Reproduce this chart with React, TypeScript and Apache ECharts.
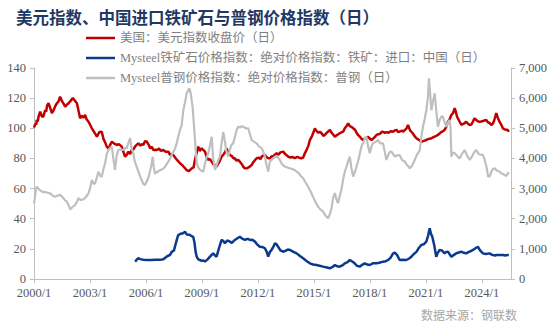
import React, { useEffect, useRef } from "react";
import * as echarts from "echarts";

const titleText = "美元指数、中国进口铁矿石与普钢价格指数（日）";
const sourceText = "数据来源：钢联数";
const seriesNames = [
  "美国：美元指数收盘价（日）",
  "Mysteel铁矿石价格指数：绝对价格指数：铁矿：进口：中国（日）",
  "Mysteel普钢价格指数：绝对价格指数：普钢（日）",
];
const xTickYears = [2000, 2003, 2006, 2009, 2012, 2015, 2018, 2021, 2024];

// [year (decimal), value]
const usdIndex: [number, number][] = [
  [2000.0, 100.5], [2000.04, 102], [2000.08, 103], [2000.12, 102.5], [2000.15, 105.5], [2000.2, 104.5], [2000.25, 108], [2000.33, 111], [2000.42, 108],
  [2000.5, 107.7], [2000.6, 112], [2000.65, 111], [2000.7, 115], [2000.78, 116.6], [2000.88, 113], [2000.96, 110],
  [2001.05, 112], [2001.15, 115], [2001.23, 116.6], [2001.32, 118], [2001.4, 121], [2001.5, 118],
  [2001.6, 116], [2001.67, 114.3], [2001.75, 115.5], [2001.85, 116.6], [2001.95, 118], [2002.08, 120],
  [2002.18, 118.5], [2002.3, 116.6], [2002.38, 112], [2002.47, 106.6], [2002.55, 108.5], [2002.65, 107],
  [2002.74, 108.8], [2002.82, 106], [2002.92, 104.4], [2003.02, 102], [2003.1, 100], [2003.2, 98],
  [2003.3, 96], [2003.37, 94.4], [2003.5, 97.5], [2003.63, 97.7], [2003.72, 93], [2003.8, 91],
  [2003.9, 87.8], [2004.0, 86.5], [2004.08, 89], [2004.17, 91.1], [2004.28, 90], [2004.36, 89.5],
  [2004.44, 88.9], [2004.55, 89.5], [2004.7, 87.8], [2004.8, 84], [2004.88, 81.2], [2004.95, 82],
  [2005.06, 84.5], [2005.15, 83], [2005.24, 85.6], [2005.33, 86], [2005.41, 87.8], [2005.5, 89],
  [2005.59, 90], [2005.7, 88.5], [2005.78, 89.5], [2005.86, 88.9], [2005.95, 91.5], [2006.04, 91.1],
  [2006.15, 89], [2006.22, 86.7], [2006.31, 87.8], [2006.4, 85.5], [2006.5, 85.8], [2006.58, 85.6],
  [2006.7, 86.5], [2006.8, 85], [2006.93, 85.6], [2007.05, 84.5], [2007.2, 84.5], [2007.29, 82.3],
  [2007.38, 83], [2007.46, 82.3], [2007.6, 80], [2007.7, 78.5], [2007.82, 76.8], [2007.95, 75.5],
  [2008.05, 74], [2008.18, 72.3], [2008.3, 71.5], [2008.45, 73.4], [2008.55, 74], [2008.62, 79],
  [2008.7, 83], [2008.8, 87.8], [2008.88, 85], [2008.98, 86.7], [2009.08, 85.5], [2009.16, 84.5],
  [2009.25, 81], [2009.34, 79], [2009.43, 79.5], [2009.52, 77.9], [2009.62, 76], [2009.72, 75.5],
  [2009.78, 74.5], [2009.9, 77], [2010.05, 81.2], [2010.15, 82.5], [2010.25, 84.5], [2010.32, 86.7],
  [2010.4, 84], [2010.5, 82.3], [2010.6, 81.5], [2010.7, 80], [2010.76, 80.1], [2010.85, 78.5],
  [2010.94, 79], [2011.05, 77.5], [2011.15, 76], [2011.21, 74.5], [2011.3, 73.5], [2011.39, 73.4],
  [2011.5, 74], [2011.6, 75], [2011.66, 75.6], [2011.75, 77.5], [2011.85, 79], [2011.93, 80.1],
  [2012.05, 80.5], [2012.13, 79.5], [2012.2, 81.2], [2012.3, 82], [2012.37, 82.3], [2012.45, 81],
  [2012.55, 80.1], [2012.64, 80.1], [2012.73, 81.5], [2012.81, 81.2], [2012.9, 82.5], [2013.0, 83.4],
  [2013.1, 82.5], [2013.2, 84], [2013.35, 84.5], [2013.45, 83], [2013.55, 82], [2013.62, 81.2],
  [2013.75, 80.5], [2013.85, 81], [2013.97, 80.1], [2014.1, 81], [2014.2, 80.5], [2014.33, 80.1],
  [2014.42, 80.5], [2014.51, 83.4], [2014.6, 85.5], [2014.7, 88.5], [2014.78, 92.2], [2014.9, 95],
  [2014.98, 97.5], [2015.05, 100], [2015.12, 98.5], [2015.22, 97], [2015.31, 97.7], [2015.42, 96.5],
  [2015.5, 95], [2015.58, 95.6], [2015.68, 97], [2015.78, 98], [2015.85, 98.9], [2015.95, 97],
  [2016.05, 95.5], [2016.12, 94.4], [2016.22, 95.5], [2016.3, 96], [2016.38, 96.7], [2016.5, 97.5],
  [2016.58, 98], [2016.65, 100], [2016.75, 101.5], [2016.83, 103.3], [2016.92, 101.5], [2017.0, 101],
  [2017.1, 100], [2017.2, 99], [2017.28, 97], [2017.36, 95.6], [2017.45, 94.5], [2017.55, 93],
  [2017.63, 92.2], [2017.72, 93], [2017.82, 93.5], [2017.9, 94.4], [2018.0, 93], [2018.08, 92.2],
  [2018.2, 93.5], [2018.28, 94.5], [2018.35, 95.6], [2018.45, 96], [2018.55, 96.5], [2018.62, 97.5],
  [2018.7, 97.7], [2018.8, 97], [2018.9, 97.5], [2019.0, 97], [2019.06, 97.7], [2019.15, 98],
  [2019.24, 97.7], [2019.33, 98.5], [2019.42, 98.9], [2019.52, 97.5], [2019.62, 98], [2019.72, 98.5],
  [2019.77, 97.7], [2019.88, 99], [2019.96, 100], [2020.04, 102.2], [2020.1, 100], [2020.16, 98.5],
  [2020.22, 97.7], [2020.3, 96.5], [2020.38, 95], [2020.49, 93.4], [2020.6, 92.5], [2020.68, 91.8],
  [2020.75, 91.1], [2020.85, 91.5], [2020.93, 91.8], [2021.02, 92.2], [2021.1, 92.8], [2021.2, 93],
  [2021.29, 93.4], [2021.38, 94], [2021.46, 94.5], [2021.55, 95], [2021.64, 95.6], [2021.73, 96.5],
  [2021.82, 97.5], [2021.9, 98], [2022.0, 98.9], [2022.09, 101], [2022.18, 104.4], [2022.27, 106],
  [2022.36, 108.8], [2022.45, 110], [2022.54, 113.3], [2022.6, 111], [2022.66, 108], [2022.71, 106.6],
  [2022.8, 104.5], [2022.9, 102.2], [2023.0, 103], [2023.08, 103.5], [2023.16, 104.4], [2023.25, 103],
  [2023.34, 102.2], [2023.43, 102.5], [2023.52, 104.5], [2023.6, 106.6], [2023.7, 105.5], [2023.8, 104.5],
  [2023.87, 104.4], [2023.96, 104.5], [2024.05, 104.8], [2024.14, 105.2], [2024.23, 105.5], [2024.32, 104],
  [2024.41, 103.5], [2024.5, 102.2], [2024.58, 103], [2024.65, 105], [2024.72, 108], [2024.77, 110],
  [2024.85, 107], [2024.94, 104.4], [2025.03, 102.5], [2025.12, 100], [2025.2, 99.5], [2025.3, 98.9],
  [2025.38, 99], [2025.44, 97.7],
];

const ironOreIndex: [number, number][] = [
  [2005.42, 575], [2005.5, 640], [2005.59, 690], [2005.7, 660], [2005.85, 640], [2006.04, 630],
  [2006.3, 630], [2006.5, 640], [2006.75, 635], [2006.93, 655], [2007.1, 740], [2007.29, 800],
  [2007.38, 900], [2007.5, 950], [2007.55, 1070], [2007.65, 1300], [2007.73, 1460], [2007.85, 1500],
  [2008.0, 1520], [2008.09, 1570], [2008.18, 1480], [2008.3, 1470], [2008.36, 1460], [2008.45, 1420],
  [2008.53, 1400], [2008.6, 1200], [2008.66, 900], [2008.72, 740], [2008.8, 650], [2008.89, 630],
  [2009.0, 600], [2009.08, 620], [2009.16, 575], [2009.3, 650], [2009.43, 740], [2009.52, 800],
  [2009.6, 850], [2009.7, 780], [2009.78, 740], [2009.9, 1000], [2010.05, 1300], [2010.15, 1250],
  [2010.23, 1185], [2010.35, 1280], [2010.5, 1240], [2010.6, 1200], [2010.76, 1295], [2010.9, 1350],
  [2011.03, 1400], [2011.15, 1340], [2011.3, 1300], [2011.45, 1330], [2011.57, 1295], [2011.7, 1300],
  [2011.84, 1240], [2011.95, 1150], [2012.1, 1070], [2012.25, 1060], [2012.37, 1020], [2012.47, 900],
  [2012.55, 740], [2012.64, 900], [2012.73, 965], [2012.85, 1100], [2012.91, 1185], [2013.0, 1150],
  [2013.08, 1070], [2013.2, 950], [2013.35, 905], [2013.5, 940], [2013.6, 980], [2013.71, 965],
  [2013.9, 900], [2014.07, 850], [2014.25, 760], [2014.42, 685], [2014.6, 600], [2014.78, 520],
  [2014.95, 480], [2015.14, 465], [2015.3, 440], [2015.49, 410], [2015.7, 380], [2015.85, 355],
  [2016.0, 400], [2016.12, 465], [2016.25, 420], [2016.38, 410], [2016.52, 450], [2016.65, 520],
  [2016.8, 560], [2016.92, 630], [2017.05, 580], [2017.18, 520], [2017.3, 440], [2017.45, 410],
  [2017.58, 470], [2017.72, 520], [2017.85, 480], [2017.99, 465], [2018.15, 520], [2018.35, 520],
  [2018.5, 540], [2018.7, 575], [2018.85, 590], [2018.97, 630], [2019.1, 700], [2019.24, 850],
  [2019.33, 870], [2019.45, 800], [2019.59, 630], [2019.75, 640], [2019.95, 630], [2020.1, 680],
  [2020.22, 740], [2020.35, 830], [2020.49, 900], [2020.62, 1030], [2020.75, 1130], [2020.88, 1150],
  [2021.02, 1240], [2021.12, 1450], [2021.2, 1680], [2021.27, 1500], [2021.34, 1400], [2021.45, 1100],
  [2021.55, 740], [2021.62, 850], [2021.73, 965], [2021.85, 950], [2022.0, 850], [2022.09, 900],
  [2022.18, 905], [2022.27, 820], [2022.36, 740], [2022.5, 800], [2022.62, 850], [2022.75, 880],
  [2022.9, 905], [2023.03, 870], [2023.16, 850], [2023.3, 900], [2023.42, 930], [2023.52, 965],
  [2023.65, 1020], [2023.78, 1070], [2023.9, 950], [2024.05, 850], [2024.2, 830], [2024.41, 850],
  [2024.55, 800], [2024.7, 780], [2024.77, 795], [2024.9, 800], [2025.12, 795], [2025.25, 780],
  [2025.39, 800], [2025.44, 800],
];

const steelIndex: [number, number][] = [
  [2000.0, 2510], [2000.05, 2700], [2000.1, 3000], [2000.15, 3060], [2000.25, 2980], [2000.42, 2900],
  [2000.6, 2880], [2000.75, 2860], [2000.87, 2840], [2001.0, 2760], [2001.13, 2730], [2001.25, 2760],
  [2001.4, 2790], [2001.55, 2700], [2001.65, 2620], [2001.76, 2565], [2001.85, 2450], [2001.94, 2310],
  [2002.05, 2380], [2002.2, 2455], [2002.3, 2560], [2002.38, 2680], [2002.5, 2620], [2002.65, 2640],
  [2002.78, 2720], [2002.92, 2840], [2003.02, 3050], [2003.1, 3285], [2003.2, 3150], [2003.27, 3175],
  [2003.36, 3350], [2003.45, 3560], [2003.55, 3420], [2003.63, 3394], [2003.72, 3650], [2003.81, 3840],
  [2003.9, 4150], [2003.99, 4280], [2004.08, 4350], [2004.17, 4390], [2004.25, 4000], [2004.34, 3620],
  [2004.43, 4100], [2004.52, 4280], [2004.65, 4300], [2004.79, 4280], [2004.9, 4350], [2004.97, 4340],
  [2005.08, 4550], [2005.15, 4670], [2005.22, 4350], [2005.32, 4170], [2005.4, 3900], [2005.5, 3730],
  [2005.6, 3550], [2005.7, 3380], [2005.77, 3285], [2005.86, 3150], [2005.95, 3120], [2006.05, 3250],
  [2006.15, 3400], [2006.22, 3600], [2006.3, 3800], [2006.36, 4060], [2006.42, 3700], [2006.48, 3500],
  [2006.6, 3550], [2006.75, 3610], [2006.9, 3650], [2007.02, 3720], [2007.15, 3850], [2007.29, 4000],
  [2007.4, 4150], [2007.56, 4330], [2007.64, 4500], [2007.72, 4700], [2007.82, 4940], [2007.91, 5100],
  [2008.0, 5600], [2008.09, 5850], [2008.18, 6160], [2008.27, 6270], [2008.33, 6320], [2008.4, 6150],
  [2008.5, 5700], [2008.58, 5000], [2008.65, 4400], [2008.72, 3840], [2008.8, 3700], [2008.9, 3620],
  [2009.0, 3580], [2009.07, 3560], [2009.15, 3800], [2009.25, 4050], [2009.34, 4170], [2009.45, 4500],
  [2009.52, 4720], [2009.6, 4000], [2009.7, 3620], [2009.8, 3800], [2009.88, 3950], [2009.96, 4060],
  [2010.05, 4500], [2010.14, 4880], [2010.22, 4600], [2010.3, 4250], [2010.41, 4060], [2010.5, 4300],
  [2010.58, 4450], [2010.67, 4500], [2010.78, 4750], [2010.86, 4950], [2010.94, 5050], [2011.05, 5030],
  [2011.13, 5070], [2011.21, 5050], [2011.35, 5000], [2011.48, 5000], [2011.57, 4800], [2011.66, 4610],
  [2011.8, 4550], [2011.93, 4500], [2012.05, 4400], [2012.2, 4340], [2012.3, 4200], [2012.37, 4060],
  [2012.45, 3800], [2012.55, 3560], [2012.64, 3900], [2012.73, 3950], [2012.82, 4000], [2012.91, 4060],
  [2013.05, 4050], [2013.17, 3950], [2013.3, 3800], [2013.44, 3730], [2013.58, 3700], [2013.71, 3670],
  [2013.85, 3650], [2014.0, 3600], [2014.07, 3560], [2014.2, 3500], [2014.32, 3400], [2014.42, 3340],
  [2014.55, 3200], [2014.69, 3060], [2014.82, 2900], [2014.95, 2730], [2015.08, 2550], [2015.22, 2400],
  [2015.35, 2300], [2015.49, 2235], [2015.6, 2120], [2015.7, 2050], [2015.76, 2015], [2015.85, 2150],
  [2015.94, 2345], [2016.03, 2700], [2016.12, 2850], [2016.2, 2650], [2016.29, 2510], [2016.38, 2750],
  [2016.47, 2950], [2016.56, 3300], [2016.65, 3550], [2016.74, 3725], [2016.83, 3900], [2016.92, 4060],
  [2017.0, 3700], [2017.1, 3400], [2017.19, 3550], [2017.28, 3725], [2017.4, 4000], [2017.54, 4390],
  [2017.65, 4550], [2017.75, 4700], [2017.81, 4720], [2017.9, 4400], [2017.99, 4170], [2018.08, 4400],
  [2018.16, 4500], [2018.3, 4550], [2018.43, 4610], [2018.55, 4500], [2018.7, 4500], [2018.8, 4200],
  [2018.88, 3950], [2018.97, 4100], [2019.06, 4220], [2019.15, 4225], [2019.24, 4150], [2019.33, 4060],
  [2019.45, 4100], [2019.59, 4115], [2019.72, 3950], [2019.86, 3900], [2019.96, 3800], [2020.05, 3750],
  [2020.13, 3670], [2020.25, 3750], [2020.4, 3950], [2020.5, 4100], [2020.6, 4200], [2020.67, 4280],
  [2020.75, 4700], [2020.84, 5050], [2020.93, 5300], [2021.02, 5600], [2021.1, 6000], [2021.16, 6660],
  [2021.22, 6200], [2021.29, 5600], [2021.38, 5900], [2021.47, 6160], [2021.55, 5600], [2021.64, 5050],
  [2021.75, 5300], [2021.84, 5400], [2021.91, 5380], [2022.0, 5200], [2022.09, 5050], [2022.18, 5200],
  [2022.27, 5280], [2022.32, 5000], [2022.36, 4060], [2022.45, 4200], [2022.54, 4170], [2022.65, 4100],
  [2022.8, 4000], [2022.93, 4150], [2023.07, 4280], [2023.2, 4100], [2023.34, 3950], [2023.45, 4050],
  [2023.58, 4200], [2023.7, 4280], [2023.82, 4150], [2023.95, 4120], [2024.05, 4115], [2024.15, 3950],
  [2024.25, 3700], [2024.33, 3400], [2024.41, 3400], [2024.5, 3550], [2024.58, 3650], [2024.68, 3670],
  [2024.8, 3600], [2024.94, 3560], [2025.05, 3500], [2025.15, 3480], [2025.21, 3450], [2025.3, 3420],
  [2025.39, 3500], [2025.44, 3550],
];

const FONT = "'Liberation Serif', 'Noto Sans CJK SC', serif";

export default function App() {
  const ref = useRef<HTMLDivElement>(null);
  useEffect(() => {
    if (!ref.current) return;
    const chart = echarts.init(ref.current, undefined, { renderer: "svg" });
    const axisLineStyle = { color: "#BFBFBF", width: 1 };
    const labelStyle = { color: "#595959", fontSize: 12.5, fontFamily: FONT };
    chart.setOption({
      animation: false,
      backgroundColor: "#ffffff",
      title: {
        text: titleText,
        left: 11,
        top: 5,
        textStyle: { color: "#1F3864", fontSize: 16.5, fontWeight: "bold", fontFamily: FONT },
      },
      graphic: [
        {
          type: "text",
          right: 33,
          top: 310,
          style: { text: sourceText, fill: "#A6A6A6", fontSize: 12, fontFamily: FONT },
        },
      ],
      legend: {
        orient: "vertical",
        left: 86,
        top: 31,
        itemGap: 6,
        itemWidth: 29,
        itemHeight: 2.5,
        icon: "rect",
        padding: 0,
        textStyle: { color: "#7F7F7F", fontSize: 12.5, fontFamily: FONT, lineHeight: 14 },
        data: seriesNames,
      },
      grid: { left: 34, right: 39, top: 68, bottom: 53 },
      xAxis: {
        type: "value",
        min: 2000,
        max: 2025.55,
        interval: 3,
        axisLine: { lineStyle: axisLineStyle },
        axisTick: { show: true, length: 4, lineStyle: axisLineStyle },
        splitLine: { show: false },
        axisLabel: {
          ...labelStyle,
          margin: 8,
          showMaxLabel: false,
          formatter: (v: number) => (xTickYears.includes(v) ? `${v}/1` : ""),
        },
      },
      yAxis: [
        {
          type: "value",
          min: 0,
          max: 140,
          interval: 20,
          axisLine: { show: true, lineStyle: axisLineStyle },
          axisTick: { show: true, length: 4, lineStyle: axisLineStyle },
          splitLine: { show: false },
          axisLabel: { ...labelStyle, margin: 8 },
        },
        {
          type: "value",
          min: 0,
          max: 7000,
          interval: 1000,
          position: "right",
          axisLine: { show: true, lineStyle: axisLineStyle },
          axisTick: { show: true, length: 4, lineStyle: axisLineStyle },
          splitLine: { show: false },
          axisLabel: { ...labelStyle, margin: 8 },
        },
      ],
      series: [
        {
          name: seriesNames[0],
          type: "line",
          yAxisIndex: 0,
          data: usdIndex,
          showSymbol: false,
          lineStyle: { color: "#C00000", width: 2.5 },
          itemStyle: { color: "#C00000" },
          z: 2,
        },
        {
          name: seriesNames[1],
          type: "line",
          yAxisIndex: 1,
          data: ironOreIndex,
          showSymbol: false,
          lineStyle: { color: "#0B3A8C", width: 2.5 },
          itemStyle: { color: "#0B3A8C" },
          z: 3,
        },
        {
          name: seriesNames[2],
          type: "line",
          yAxisIndex: 1,
          data: steelIndex,
          showSymbol: false,
          lineStyle: { color: "#BFBFBF", width: 2.2 },
          itemStyle: { color: "#BFBFBF" },
          z: 4,
        },
      ],
    });
    return () => chart.dispose();
  }, []);
  return <div ref={ref} style={{ width: 550, height: 332, position: "fixed", left: 0, top: 0 }} />;
}
